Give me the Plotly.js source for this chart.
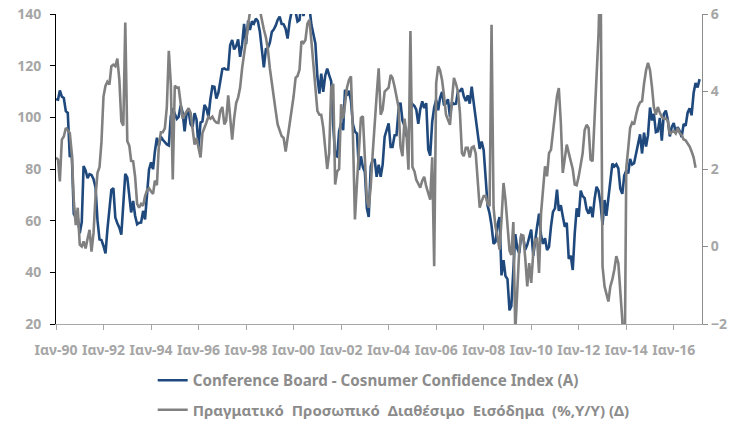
<!DOCTYPE html>
<html>
<head>
<meta charset="utf-8">
<script src="https://cdn.plot.ly/plotly-3.0.1.min.js"></script>
<style>
html,body{margin:0;padding:0;background:#ffffff;}
#chart{width:734px;height:424px;}
</style>
</head>
<body>
<div id="chart"></div>
<script>
// Monthly data, first month = Jan 1990
const firstMonth = '1990-01';

// Conference Board - Consumer Confidence Index (left axis), Jan 1990 .. Feb 2017
const confidence = [
  107.0,106.8,110.4,108.0,107.5,102.4,101.7,84.7,85.6,62.6,61.2,61.2,
  55.1,59.4,81.1,79.4,76.4,78.0,77.7,76.1,72.9,60.1,52.7,52.5,
  50.2,47.3,56.5,65.1,71.9,72.6,61.2,59.0,57.3,54.6,65.6,78.1,
  76.7,68.5,63.2,67.6,61.9,58.6,59.2,59.3,63.8,60.5,71.9,79.8,
  82.6,79.9,86.7,92.1,88.9,92.5,91.3,90.4,89.5,89.1,100.4,103.4,
  101.4,99.4,100.2,104.6,102.0,94.6,101.4,102.4,97.3,96.3,101.6,99.2,
  88.4,98.0,98.4,104.8,103.5,100.1,107.0,112.0,111.8,107.3,109.5,114.2,
  118.7,118.9,118.5,118.5,127.9,129.9,126.3,127.6,130.2,123.4,128.1,136.2,
  128.3,137.4,133.8,137.2,136.3,138.2,137.2,133.1,126.4,119.3,126.4,126.7,
  128.9,133.1,134.0,135.5,137.7,139.0,136.2,136.0,134.2,130.5,137.0,141.7,
  144.7,140.8,137.1,137.7,144.7,139.2,143.0,140.8,142.5,135.8,132.6,128.6,
  115.7,109.2,116.9,109.9,116.1,118.9,116.3,114.0,97.0,85.3,84.9,94.6,
  97.8,95.0,110.7,108.5,110.3,106.3,97.4,94.5,93.7,79.6,84.9,80.7,
  78.8,64.8,61.4,81.0,83.6,83.5,77.0,81.7,77.0,81.7,92.5,94.8,
  97.7,88.5,88.5,93.0,93.1,102.8,105.7,98.7,96.7,92.9,92.6,102.7,
  105.1,104.4,103.0,97.5,103.1,106.2,103.6,105.5,87.5,85.2,98.3,103.8,
  106.8,102.7,107.5,109.8,104.7,105.4,107.0,100.2,105.9,105.1,105.3,110.0,
  110.2,111.2,108.2,106.3,108.5,105.3,111.9,105.6,99.5,95.2,87.8,90.6,
  87.3,76.4,65.9,62.8,58.1,51.0,51.9,58.5,61.4,38.8,44.7,38.6,
  37.4,25.3,26.9,40.8,54.8,49.3,47.4,54.5,53.4,48.7,50.6,53.6,
  56.5,46.4,52.3,57.7,62.7,54.3,51.0,53.2,48.6,49.9,57.8,63.4,
  64.8,72.0,63.8,66.0,61.7,57.6,59.2,45.2,46.4,40.9,55.2,64.8,
  61.5,71.6,69.5,68.7,64.4,62.7,65.4,61.3,68.4,73.1,71.5,66.7,
  58.4,68.0,61.9,69.0,76.2,82.1,81.0,81.8,80.2,72.4,70.4,77.5,
  79.4,78.3,83.9,81.7,82.2,86.4,90.3,93.4,86.0,94.1,88.7,93.1,
  103.8,98.8,101.4,94.3,94.6,99.8,91.0,101.3,102.6,99.1,92.6,96.3,
  97.8,94.0,96.2,94.7,92.4,97.4,96.7,101.8,103.5,100.8,109.4,113.3,
  111.6,114.8
];

// Real personal disposable income, % y/y (right axis), Jan 1990 .. Dec 2016
const income = [
  2.29,2.24,1.68,2.76,2.84,3.06,3.0,2.93,2.4,1.2,0.55,1.0,
  0.05,0.0,0.13,-0.05,0.2,0.43,-0.13,0.35,1.3,1.9,2.05,2.7,
  3.87,4.15,4.25,4.18,4.65,4.69,4.65,4.85,4.3,3.23,3.12,5.78,
  2.72,2.6,2.21,2.2,1.8,1.1,1.0,1.1,1.05,1.3,1.45,1.5,
  1.42,1.36,1.7,1.58,2.6,2.95,2.95,3.05,3.6,5.05,4.2,1.73,
  4.15,4.1,4.1,3.7,3.3,3.4,3.5,3.57,3.45,3.1,2.63,2.8,
  2.5,2.3,2.93,3.05,3.2,3.35,3.3,3.35,3.25,3.2,3.19,3.5,
  3.6,3.15,3.25,3.9,3.4,2.76,3.3,3.7,3.85,4.1,4.6,5.0,
  5.35,5.7,6.05,6.15,6.2,6.1,6.05,6.1,5.8,5.6,5.4,5.1,
  4.6,4.26,3.9,3.5,3.15,2.97,2.85,2.8,2.45,2.8,3.14,3.44,
  3.87,4.35,4.4,4.56,5.3,5.25,5.33,5.75,5.85,5.3,4.65,4.0,
  3.5,3.4,3.4,3.07,2.55,2.0,2.4,4.1,4.2,1.6,1.94,2.0,
  3.67,3.3,3.67,4.1,4.3,4.39,2.89,0.7,1.63,2.5,3.32,3.36,
  2.29,1.2,1.0,1.55,2.4,3.3,3.9,4.6,3.4,3.53,4.0,4.05,
  4.1,4.43,4.35,4.13,3.9,3.6,2.58,2.33,3.3,2.93,1.98,5.56,
  2.05,1.94,1.72,1.6,1.52,1.7,1.8,1.55,1.38,1.21,2.3,-0.51,
  4.22,4.65,4.55,4.3,3.9,3.4,3.27,3.14,3.79,4.35,4.2,4.0,
  3.45,2.41,2.33,2.55,2.55,2.3,2.55,2.58,2.4,1.7,1.0,1.17,
  1.3,1.3,1.1,1.04,5.72,1.0,0.5,0.25,-0.08,0.69,1.64,1.21,
  0.43,-0.1,-0.22,0.63,-2.2,-0.9,-0.08,0.3,0.28,-0.3,-1.03,-0.43,
  -0.94,-0.17,0.18,0.2,-0.68,0.86,1.55,2.07,1.81,2.41,2.5,2.93,
  3.36,3.88,4.09,3.2,1.9,2.33,2.63,2.41,2.2,2.0,1.6,1.58,
  1.81,2.1,2.4,3.0,3.14,3.06,2.24,2.2,3.2,4.4,5.5,7.5,
  -0.51,-1.03,-1.2,-1.42,-1.03,-0.85,-0.6,-0.25,-0.43,-1.2,-1.9,-4.5,
  2.03,2.55,3.06,3.2,3.15,3.4,3.6,3.72,3.75,4.2,4.55,4.74,
  4.55,4.1,3.6,3.4,3.6,3.45,3.35,3.3,3.3,3.25,2.9,2.95,
  2.98,2.92,3.06,2.93,2.88,2.76,2.74,2.66,2.58,2.45,2.3,2.03
];

const seriesNames = [
  'Conference Board - Cosnumer Confidence Index (A)',
  'Πραγματικό  Προσωπικό  Διαθέσιμο  Εισόδημα  (%,Y/Y) (Δ)'
];
const legendSizes = [15.2, 15];

const tickDates = ['1990-01-01','1992-01-01','1994-01-01','1996-01-01','1998-01-01','2000-01-01',
  '2002-01-01','2004-01-01','2006-01-01','2008-01-01','2010-01-01','2012-01-01','2014-01-01','2016-01-01'];
const tickLabels = ['Ιαν-90','Ιαν-92','Ιαν-94','Ιαν-96','Ιαν-98','Ιαν-00','Ιαν-02',
  'Ιαν-04','Ιαν-06','Ιαν-08','Ιαν-10','Ιαν-12','Ιαν-14','Ιαν-16'];

function monthDates(start, n){
  const [y0, m0] = start.split('-').map(Number);
  const out = [];
  for (let i = 0; i < n; i++){
    const t = (m0 - 1) + i;
    const y = y0 + Math.floor(t / 12);
    const m = (t % 12) + 1;
    out.push(y + '-' + String(m).padStart(2,'0') + '-01');
  }
  return out;
}
function sized(name, px){ return '<span style="font-size:' + px + 'px">' + name + '</span>'; }

const FONT = "'Noto Sans', 'DejaVu Sans', sans-serif";
const TICKGREY = '#a6a6a6';

const traces = [
  {
    type:'scatter', mode:'lines', name: sized(seriesNames[0], legendSizes[0]),
    x: monthDates(firstMonth, confidence.length), y: confidence,
    line:{color:'#1f497d', width:2.6}, yaxis:'y', legendgroup:'a'
  },
  {
    type:'scatter', mode:'lines', name: sized(seriesNames[1], legendSizes[1]),
    x: monthDates(firstMonth, income.length), y: income,
    line:{color:'#808080', width:2.6}, yaxis:'y2', legendgroup:'b'
  }
];

const layout = {
  width:734, height:424,
  margin:{l:56, r:32, t:14, b:100, pad:0, autoexpand:false},
  paper_bgcolor:'#ffffff', plot_bgcolor:'#ffffff',
  font:{family:FONT, color:TICKGREY},
  showlegend:true,
  legend:{
    orientation:'v', xanchor:'left', yanchor:'top',
    x:0.1497, y:-0.129, bgcolor:'rgba(0,0,0,0)',
    font:{family:FONT, size:15, color:'#8c8c8c', weight:'bold'},
    tracegroupgap:7, itemwidth:30
  },
  xaxis:{
    type:'date', range:['1990-01-01','2017-03-10'],
    tickmode:'array', tickvals:tickDates, ticktext:tickLabels,
    ticks:'outside', ticklen:5, tickcolor:'#a6a6a6', tickwidth:1,
    showline:true, linecolor:'#a6a6a6', linewidth:1,
    showgrid:false, zeroline:false,
    tickfont:{family:FONT, size:14, color:TICKGREY, weight:'bold'},
    ticklabelstandoff:8
  },
  yaxis:{
    range:[20,140], tickmode:'linear', tick0:20, dtick:20,
    ticks:'outside', ticklen:5, tickcolor:'#000000', tickwidth:1,
    showline:true, linecolor:'#000000', linewidth:1,
    showgrid:false, zeroline:false,
    tickfont:{family:FONT, size:14, color:TICKGREY, weight:'bold'},
    ticklabelstandoff:6
  },
  yaxis2:{
    overlaying:'y', side:'right',
    range:[-2,6], tickmode:'linear', tick0:-2, dtick:2,
    ticks:'outside', ticklen:5, tickcolor:'#8c8c8c', tickwidth:1,
    showline:true, linecolor:'#8c8c8c', linewidth:1,
    showgrid:false, zeroline:false,
    tickfont:{family:FONT, size:14, color:TICKGREY, weight:'bold'}
  }
};

Plotly.newPlot('chart', traces, layout, {displayModeBar:false, staticPlot:true});
</script>
</body>
</html>
